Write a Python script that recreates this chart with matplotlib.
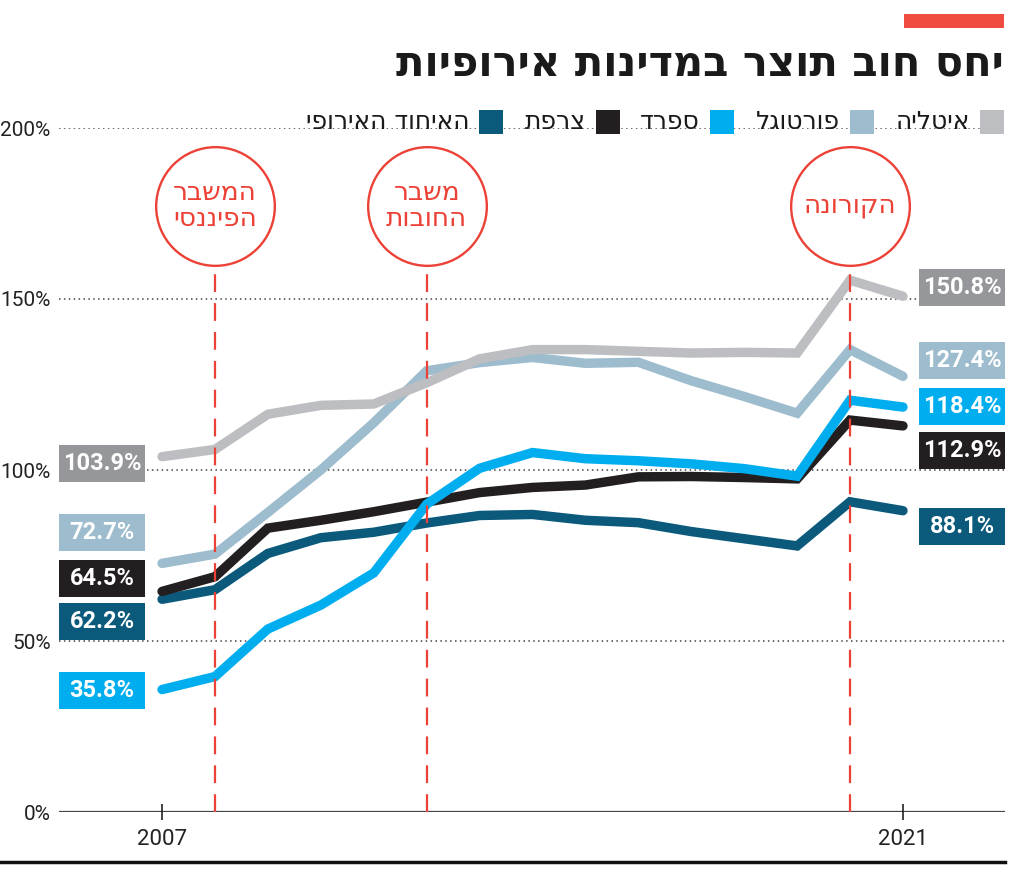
import matplotlib
matplotlib.use("Agg")
import matplotlib.pyplot as plt
from matplotlib.patches import Rectangle
from matplotlib.lines import Line2D

# --- data (debt to GDP, %) ---
years = list(range(2007, 2022))
italy = [103.9, 106.0, 116.3, 118.9, 119.3, 125.5, 132.5, 135.2, 135.2, 134.7, 134.2, 134.4, 134.2, 155.5, 150.8]
portugal = [72.7, 75.4, 87.6, 100.0, 113.8, 129.0, 131.4, 132.9, 131.2, 131.5, 126.1, 121.5, 116.6, 135.2, 127.4]
spain = [35.8, 39.6, 53.5, 60.5, 69.9, 90.0, 100.5, 105.1, 103.3, 102.7, 101.8, 100.4, 98.2, 120.4, 118.4]
france = [64.5, 68.8, 83.0, 85.3, 87.8, 90.6, 93.4, 94.9, 95.6, 98.0, 98.1, 97.8, 97.4, 114.6, 112.9]
eu = [62.2, 65.0, 75.6, 80.2, 81.8, 84.5, 86.7, 87.0, 85.3, 84.6, 82.0, 79.9, 77.8, 90.7, 88.1]

series_names = ["איטליה", "פורטוגל", "ספרד", "צרפת", "האיחוד האירופי"]
series_values = [italy, portugal, spain, france, eu]

events = [2008, 2012, 2020]
event_labels = ["המשבר\nהפיננסי", "משבר\nהחובות", "הקורונה"]

title = "יחס חוב תוצר במדינות אירופיות"
yticks = [0, 50, 100, 150, 200]

# --- style ---
line_colors = ["#bdbec2", "#9dbccd", "#00aeef", "#231f20", "#0b5a7c"]
box_colors = ["#96979b", "#9dbccd", "#00aeef", "#231f20", "#0b5a7c"]
red = "#ec4136"
heb = ["DejaVu Sans"]
num = ["Roboto", "DejaVu Sans"]


def rtl(s):
    # matplotlib lays text out left to right, so flip hebrew lines
    return "\n".join(line[::-1] for line in s.split("\n"))


fig = plt.figure(figsize=(10.24, 8.71), dpi=100)
W, H = 1024, 871
ax = fig.add_axes([59 / W, (H - 812) / H, 946 / W, 684 / H])

x0 = 2007 - 103 / 52.9
x1 = 2021 + 102 / 52.9
ax.set_xlim(x0, x1)
ax.set_ylim(0, 200)

for s in ax.spines.values():
    s.set_visible(False)

# grid lines
for v in yticks[1:]:
    ax.axhline(v, color="#444444", lw=1.1, ls=(0, (1, 2.2)), zorder=1)
ax.axhline(0, color="#444444", lw=1.6, zorder=1)

ax.set_yticks(yticks)
ax.set_yticklabels([f"{v}%" for v in yticks], family=num, fontsize=15, color="#222222")
ax.tick_params(axis="y", length=0, pad=6)
ax.set_xticks([2007, 2021])
ax.set_xticklabels(["2007", "2021"], family=num, fontsize=16, color="#222222")
ax.tick_params(axis="x", direction="inout", length=11, width=1.2, color="#222222", pad=7)

# lines (draw order chosen so crossings look like the original)
order = [1, 0, 4, 3, 2]
for i in order:
    ax.plot(years, series_values[i], color=line_colors[i], lw=6.8,
            solid_capstyle="round", solid_joinstyle="miter", zorder=3 + order.index(i),
            clip_on=False)

# event markers
circle_y = (812 - 206) / 3.42
for ev, lab in zip(events, event_labels):
    ax.plot([ev, ev], [0, (812 - 273) / 3.42], color=red, lw=1.6,
            ls=(0, (8, 5)), zorder=10, clip_on=False)
    ax.scatter([ev], [circle_y], s=7300, facecolor="white", edgecolor=red,
               linewidth=1.7, zorder=10, clip_on=False)
    ax.text(ev, circle_y, rtl(lab), ha="center", va="center", color=red,
            family=heb, fontsize=19, linespacing=1.05, zorder=11)

# value boxes at both ends
left_centers = [101.8, 81.6, 35.4, 68.4, 55.6]
right_centers = [153.5, 131.9, 118.7, 105.8, 83.6]
bw = 86 / 52.9
bh = 37 / 3.42
lx = x0
rx = 2021 + 16 / 52.9
for i in range(5):
    for bx, cy, val in [(lx, left_centers[i], series_values[i][0]),
                        (rx, right_centers[i], series_values[i][-1])]:
        ax.add_patch(Rectangle((bx, cy - bh / 2), bw, bh, facecolor=box_colors[i],
                               edgecolor="none", zorder=12, clip_on=False))
        ax.text(bx + bw / 2, cy, f"{val:.1f}%", ha="center", va="center",
                color="white", family=num, weight="bold", fontsize=17, zorder=13)

# header
fig.patches.append(Rectangle((904 / W, 1 - 28 / H), 100 / W, 14 / H,
                             transform=fig.transFigure, facecolor="#f04c40",
                             edgecolor="none"))
fig.text(1004 / W, 1 - 63 / H, rtl(title), ha="right", va="center",
         family=heb, weight="bold", fontsize=30, color="#1a1a1a")

# legend
sq_left = [980, 850, 710, 596, 479]
for i in range(5):
    fig.patches.append(Rectangle((sq_left[i] / W, 1 - 134 / H), 24 / W, 24 / H,
                                 transform=fig.transFigure, facecolor=line_colors[i],
                                 edgecolor="none"))
    fig.text((sq_left[i] - 10) / W, 1 - 122 / H, rtl(series_names[i]), ha="right",
             va="center", family=heb, fontsize=18, color="#1a1a1a")

# bottom rule
fig.add_artist(Line2D([0, 1005 / W], [1 - 862 / H, 1 - 862 / H],
                      transform=fig.transFigure, color="#111111", lw=2.5))

fig.savefig("out.png", dpi=100)
